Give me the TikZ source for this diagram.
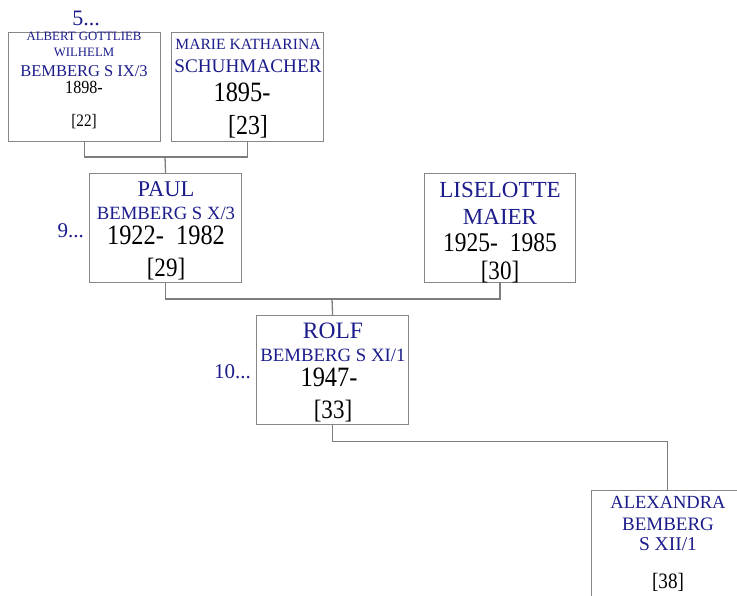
\documentclass[tikz,border=0pt]{standalone}
\usepackage{fontspec}
\setmainfont{Liberation Serif}
\newfontfamily\df[FakeStretch=0.87]{Liberation Serif}
\definecolor{nameblue}{RGB}{28,28,140}
\definecolor{boxgray}{RGB}{135,135,135}
\definecolor{linegray}{RGB}{125,125,125}
\tikzset{
  person/.style={draw=boxgray, line width=1.2pt, fill=white, minimum width=152pt, minimum height=109pt, inner sep=0pt, anchor=north west},
  link/.style={draw=linegray, line width=1.3pt},
  nm/.style={text=nameblue, anchor=base, inner sep=0pt},
  dt/.style={text=black, anchor=base, inner sep=0pt, font=\df},
  gen/.style={text=nameblue, anchor=base east, inner sep=0pt},
}
\newcommand{\fs}[1]{\fontsize{#1}{#1}\selectfont}
\begin{document}
\begin{tikzpicture}[x=1pt,y=-1pt]
\clip (0,0) rectangle (737,596);
\fill[white] (0,0) rectangle (737,596);
% boxes
\node[person] (A) at (8,32) {};
\node[person] (M) at (171,32) {};
\node[person] (P) at (89,173) {};
\node[person, minimum width=151pt] (L) at (424,173) {};
\node[person] (R) at (256,315) {};
\node[person, minimum height=120pt] (X) at (591,490) {};
% connectors
\coordinate (jAM) at (165,157);
\coordinate (jPL) at (332,299);
\draw[link] (A.south) |- (jAM) -| (M.south);
\draw[link] (jAM) -- (P.north);
\draw[link] (P.south) |- (jPL) -| (L.south);
\draw[link] (jPL) -- (R.north);
\draw[link] (R.south) -- ++(0,16) coordinate (jRX) -| (X.north);
% generation labels
\node[text=nameblue, anchor=base, inner sep=0pt, font=\fs{22}] (g5) at (86,26) {5...};
\node[gen, font=\fs{21}] (g9) at (84,238) {9...};
\node[gen, font=\fs{21}] (g10) at (251,378) {10...};
% Albert
\node[nm, font=\fs{12.8}] (a1) at (84,40.5) {ALBERT GOTTLIEB};
\node[nm, font=\fs{12.8}] (a2) at (84,57) {WILHELM};
\node[nm, font=\fs{16.5}] (a3) at (84,76.5) {BEMBERG S IX/3};
\node[dt, font=\df\fs{18.5}] (a4) at (84,94) {1898-};
\node[dt, font=\df\fs{17.5}] (a5) at (84,127) {[22]};
% Marie
\node[nm, font=\fs{15.6}] (m1) at (248,50) {MARIE KATHARINA};
\node[nm, font=\fs{19.2}] (m2) at (248,72.5) {SCHUHMACHER};
\node[dt, font=\df\fs{28}] (m3) at (242,101.5) {1895-};
\node[dt, font=\df\fs{27.5}] (m4) at (248,135) {[23]};
% Paul
\node[nm, font=\fs{22.5}] (p1) at (166,196.5) {PAUL};
\node[nm, font=\fs{18.7}] (p2) at (166,220) {BEMBERG S X/3};
\node[dt, font=\df\fs{28}] (p3) at (166,245) {1922-\ \ 1982};
\node[dt, font=\df\fs{26.5}] (p4) at (166,277) {[29]};
% Liselotte
\node[nm, font=\fs{23}] (l1) at (500,198) {LISELOTTE};
\node[nm, font=\fs{23}] (l2) at (500,224.5) {MAIER};
\node[dt, font=\df\fs{27}] (l3) at (500,251.5) {1925-\ \ 1985};
\node[dt, font=\df\fs{26.5}] (l4) at (500,279.5) {[30]};
% Rolf
\node[nm, font=\fs{23.5}] (r1) at (333,339) {ROLF};
\node[nm, font=\fs{18.8}] (r2) at (333,361) {BEMBERG S XI/1};
\node[dt, font=\df\fs{28}] (r3) at (329,386.5) {1947-};
\node[dt, font=\df\fs{26.5}] (r4) at (333,418.5) {[33]};
% Alexandra
\node[nm, font=\fs{18.5}] (x1) at (668,508) {ALEXANDRA};
\node[nm, font=\fs{19}] (x2) at (668,530) {BEMBERG};
\node[nm, font=\fs{19.5}] (x3) at (668,550) {S XII/1};
\node[dt, font=\df\fs{22}] (x4) at (668,588.5) {[38]};
\end{tikzpicture}
\end{document}
